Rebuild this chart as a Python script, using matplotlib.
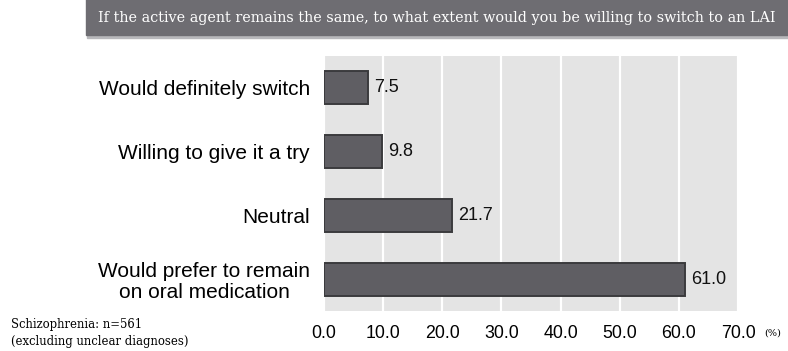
import matplotlib
matplotlib.use('Agg')
import matplotlib.pyplot as plt
from matplotlib.patches import Rectangle

categories = ['Would definitely switch', 'Willing to give it a try', 'Neutral',
              'Would prefer to remain\non oral medication']
values = [7.5, 9.8, 21.7, 61.0]
xticks = [0, 10, 20, 30, 40, 50, 60, 70]
title = 'If the active agent remains the same, to what extent would you be willing to switch to an LAI'
note = 'Schizophrenia: n=561\n(excluding unclear diagnoses)'

SANS = ['Liberation Sans', 'DejaVu Sans']
SERIF = ['DejaVu Serif']

fig = plt.figure(figsize=(7.88, 3.51), dpi=100)
ax = fig.add_axes([324 / 788, 1 - 311 / 351, 414 / 788, 255 / 351])

ax.set_facecolor('#e4e4e4')
ypos = list(range(len(categories)))
ax.barh(ypos, values, height=0.52, color='#5f5e63', edgecolor='#3b3b3d',
        linewidth=1.4, zorder=3)
for y, v in zip(ypos, values):
    ax.text(v + 1.0, y, f'{v:.1f}', va='center', ha='left',
            fontsize=13, family=SANS, color='#111111')

ax.set_xlim(0, 70)
ax.set_ylim(len(categories) - 0.5, -0.5)
ax.set_xticks(xticks)
ax.set_xticklabels([f'{t:.1f}' for t in xticks], family=SANS, fontsize=12.8)
ax.set_yticks(ypos)
ax.set_yticklabels(categories, family=SANS, fontsize=15, ha='right',
                   multialignment='center', linespacing=1.15)
ax.tick_params(length=0, pad=10, axis='x')
ax.tick_params(length=0, pad=10, axis='y')
ax.grid(axis='x', color='white', linewidth=1.6, zorder=1)
ax.set_axisbelow(True)
for s in ax.spines.values():
    s.set_visible(False)

# header banner with a soft shadow
fig.patches.append(Rectangle((87 / 788, 1 - 38 / 351), 1, 38 / 351,
                             transform=fig.transFigure, color='#b8b8bb', zorder=0))
fig.patches.append(Rectangle((86 / 788, 1 - 35 / 351), 1, 36 / 351,
                             transform=fig.transFigure, color='#6e6d72', zorder=1))
fig.text(98 / 788, 1 - 18 / 351, title, color='white', family=SERIF,
         fontsize=10.4, va='center', ha='left')

fig.text(11 / 788, 1 - 333 / 351, note, family=SERIF, fontsize=8.4,
         va='center', ha='left', linespacing=1.35)
fig.text(764 / 788, 1 - 333 / 351, '(%)', family=SERIF, fontsize=7,
         va='center', ha='left')

fig.savefig('out.png', dpi=100)
